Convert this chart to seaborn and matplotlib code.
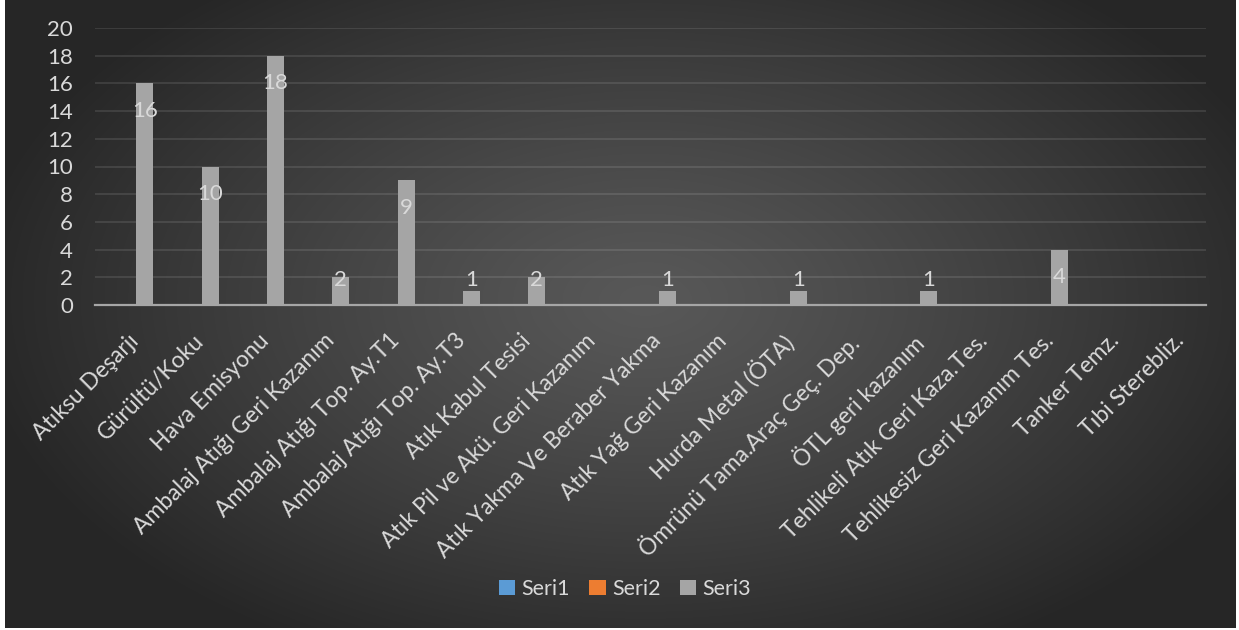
import numpy as np
import pandas as pd
import matplotlib
matplotlib.use("Agg")
import matplotlib.pyplot as plt
from matplotlib.patches import Patch
import seaborn as sns

categories = ["Atıksu Deşarjı", "Gürültü/Koku", "Hava Emisyonu", "Ambalaj Atığı Geri Kazanım",
              "Ambalaj Atığı Top. Ay.T1", "Ambalaj Atığı Top. Ay.T3", "Atık Kabul Tesisi",
              "Atık Pil ve Akü. Geri Kazanım", "Atık Yakma Ve Beraber Yakma", "Atık Yağ Geri Kazanım",
              "Hurda Metal (ÖTA)", "Ömrünü Tama.Araç Geç. Dep.", "ÖTL geri kazanım",
              "Tehlikeli Atık Geri Kaza.Tes.", "Tehlikesiz Geri Kazanım Tes.", "Tanker Temz.",
              "Tıbi Sterebliz."]
series_names = ["Seri1", "Seri2", "Seri3"]
seri1 = [np.nan] * 17
seri2 = [np.nan] * 17
seri3 = [16, 10, 18, 2, 9, 1, 2, np.nan, 1, np.nan, 1, np.nan, 1, np.nan, 4, np.nan, np.nan]
colors = ["#5b9bd5", "#ed7d31", "#a5a5a5"]
yticks = [0, 2, 4, 6, 8, 10, 12, 14, 16, 18, 20]

df = pd.DataFrame({
    "cat": categories * 3,
    "series": sum([[s] * 17 for s in series_names], []),
    "value": seri1 + seri2 + seri3,
})

sns.set_theme(style="white")
plt.rcParams["font.family"] = ["Lato", "DejaVu Sans"]

W, H = 1239, 630
fig = plt.figure(figsize=(W / 100, H / 100), dpi=100)
fig.patch.set_facecolor("white")

# radial gradient background
bg = fig.add_axes([5 / W, 2 / H, 1231 / W, 628 / H])
bg.set_axis_off()
yy, xx = np.mgrid[0:628, 0:1231]
cx, cy = 640, 300
r = np.sqrt(((xx - cx) / 680.0) ** 2 + ((yy - cy) / 400.0) ** 2)
r = np.clip(r, 0, 1)
c0 = np.array([0x58, 0x58, 0x58]) / 255
c1 = np.array([0x26, 0x26, 0x26]) / 255
t = r[..., None] ** 1.2
img = c0[None, None, :] * (1 - t) + c1[None, None, :] * t
bg.imshow(img, aspect="auto", extent=[0, 1, 0, 1])
bg.set_xlim(0, 1); bg.set_ylim(0, 1)

ax = fig.add_axes([95 / W, 1 - 305 / H, (1206 - 95) / W, (305 - 28) / H])
ax.patch.set_alpha(0)
sns.barplot(data=df, x="cat", y="value", hue="series", hue_order=series_names,
            order=categories, palette=colors, width=0.78, ax=ax, zorder=3,
            saturation=1, errorbar=None, linewidth=0, edgecolor="none")
if ax.get_legend():
    ax.get_legend().remove()

ax.set_ylim(0, 20)
ax.set_xlim(-0.5, 16.5)
ax.set_yticks(yticks)
ax.set_yticklabels([str(t) for t in yticks])
ax.set_xlabel("")
ax.set_ylabel("")
for s in ["top", "right", "left"]:
    ax.spines[s].set_visible(False)
ax.spines["bottom"].set_color("#a6a6a6")
ax.spines["bottom"].set_linewidth(1.6)
ax.spines["bottom"].set_zorder(4)
ax.yaxis.grid(True, color="white", alpha=0.12, linewidth=1.2, zorder=0)
ax.set_axisbelow(True)
ax.tick_params(axis="y", length=0, pad=16, labelsize=16, labelcolor="#d9d9d9")
ax.tick_params(axis="x", length=0, pad=18, labelsize=16.5, labelcolor="#d9d9d9")
for lab in ax.get_xticklabels():
    lab.set_rotation(45)
    lab.set_ha("right")
    lab.set_va("top")
    lab.set_rotation_mode("anchor")

# data labels on Seri3 bars
for cont in ax.containers:
    for bar in cont:
        v = bar.get_height()
        if v is None or np.isnan(v) or v == 0:
            continue
        xc = bar.get_x() + bar.get_width() / 2
        ax.text(xc, max(v - 2.0, 1.8), f"{int(round(v))}", ha="center", va="center",
                color="#d9d9d9", fontsize=16, zorder=5)

handles = [Patch(facecolor=c, edgecolor="none") for c in colors]
fig.legend(handles, series_names, loc="center", bbox_to_anchor=(625 / W, 1 - 589 / H),
           ncol=3, frameon=False, fontsize=15.5, labelcolor="#d9d9d9",
           handlelength=0.75, handleheight=0.75, handletextpad=0.3, columnspacing=0.9)

fig.savefig("out.png", dpi=100)
